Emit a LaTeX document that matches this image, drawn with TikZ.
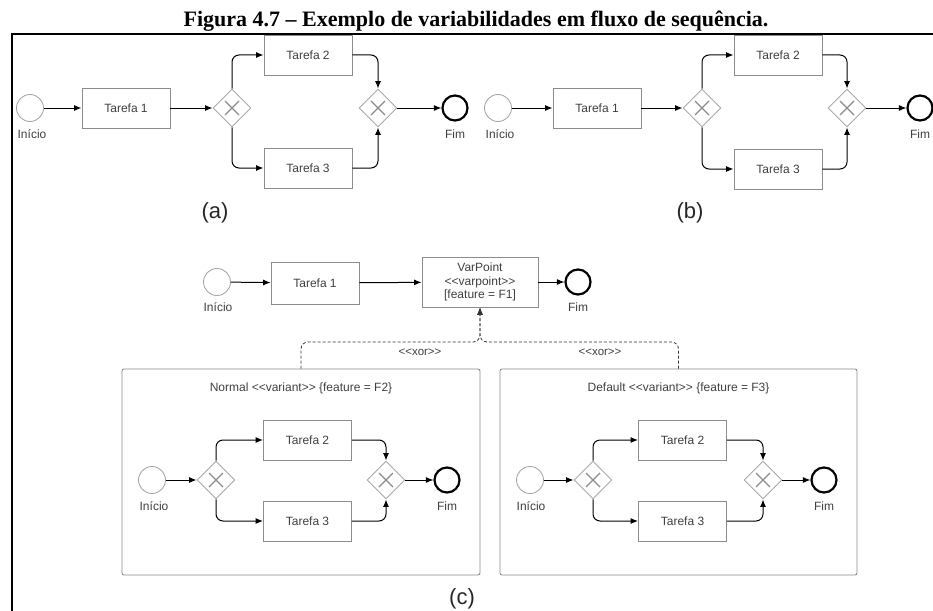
\documentclass[tikz,border=0pt]{standalone}
\usepackage{fontspec}
\setmainfont{Liberation Serif}
\setsansfont{Liberation Sans}
\usetikzlibrary{shapes.geometric,arrows.meta}

\definecolor{shapeline}{HTML}{8C8C8C}
\definecolor{evline}{HTML}{A8A8A8}
\definecolor{labeltext}{HTML}{404040}

% stereotype text written with plain angle brackets (no guillemet ligature)
\newcommand{\stereo}[1]{<\kern0pt<#1>\kern0pt>}

\tikzset{
  lbl/.style={font=\sffamily\fontsize{12}{14}\selectfont, text=labeltext, inner sep=1pt},
  task/.style={draw=shapeline, line width=0.9pt, fill=white, minimum width=88pt,
    minimum height=40pt, inner sep=0pt, lbl},
  startev/.style={circle, draw=evline, line width=0.9pt, minimum size=27pt, inner sep=0pt},
  endev/.style={circle, draw=black, line width=2.2pt, minimum size=25pt, inner sep=0pt},
  gw/.style={diamond, aspect=1, draw=evline, line width=0.9pt, fill=white,
    minimum size=38pt, inner sep=0pt,
    path picture={
      \draw[shapeline, line width=1.3pt]
        ([shift={(-7pt,-7pt)}]path picture bounding box.center) --
        ([shift={(7pt,7pt)}]path picture bounding box.center)
        ([shift={(-7pt,7pt)}]path picture bounding box.center) --
        ([shift={(7pt,-7pt)}]path picture bounding box.center);}},
  flow/.style={draw=black, line width=1pt, -{Latex[length=7.5pt,width=6pt]},
    rounded corners=7pt},
  assoc/.style={draw=black!80, line width=0.8pt, dash pattern=on 3pt off 2pt,
    rounded corners=7pt},
  varbox/.style={draw=shapeline, line width=0.9pt, rounded corners=2pt,
    minimum width=358pt, minimum height=206pt, inner sep=0pt},
  sublabel/.style={font=\sffamily\fontsize{22}{26}\selectfont, text=black!85},
}

% exclusive split into Tarefa 2 / Tarefa 3, exclusive join, end event
% #1 prefix, #2 x split, #3 x tasks, #4 x join, #5 x end, #6 y middle,
% #7 y upper task, #8 y lower task
\newcommand{\branchflow}[8]{%
  \node[gw] (#1g1) at (#2,#6) {};
  \node[task] (#1t2) at (#3,#7) {Tarefa 2};
  \node[task] (#1t3) at (#3,#8) {Tarefa 3};
  \node[gw] (#1g2) at (#4,#6) {};
  \node[endev] (#1end) at (#5,#6) {};
  \node[lbl] (#1endl) at (#5,#6+26) {Fim};
  \draw[flow] (#1g1.north) |- (#1t2.west);
  \draw[flow] (#1g1.south) |- (#1t3.west);
  \draw[flow] (#1t2.east) -| (#1g2.north);
  \draw[flow] (#1t3.east) -| (#1g2.south);
  \draw[flow] (#1g2.east) -- (#1end.west);
}

\begin{document}
\begin{tikzpicture}[x=1pt,y=-1pt]
\useasboundingbox (0,0) rectangle (933,610);

% caption
\node[font=\rmfamily\bfseries\fontsize{22}{26}\selectfont, anchor=base, inner sep=0pt]
  (caption) at (476,26.5) {Figura 4.7 – Exemplo de variabilidades em fluxo de sequência.};

% ---------- (a) ----------
\branchflow{a}{232}{308}{378}{455}{108}{55}{168}
\node[startev] (as) at (30,108) {};
\node[lbl] (asl) at (32,134) {Início};
\node[task] (at1) at (126,108) {Tarefa 1};
\draw[flow] (as) -- (at1);
\draw[flow] (at1) -- (ag1);
\node[sublabel] (alab) at (215,213) {(a)};

% ---------- (b) ----------
\branchflow{b}{702}{778}{847}{920}{108}{55}{169}
\node[startev] (bs) at (498,108) {};
\node[lbl] (bsl) at (500,134) {Início};
\node[task] (bt1) at (597,108) {Tarefa 1};
\draw[flow] (bs) -- (bt1);
\draw[flow] (bt1) -- (bg1);
\node[sublabel] (blab) at (690,213) {(b)};

% ---------- (c) main flow ----------
\node[startev] (cs) at (217,282) {};
\node[lbl] (csl) at (218,307) {Início};
\node[task, minimum height=42pt] (ct1) at (315,283) {Tarefa 1};
\node[task, minimum width=116pt, minimum height=50pt, align=center,
  font=\sffamily\fontsize{12}{13.5}\selectfont] (cvp) at (480,282)
  {VarPoint\\\stereo{varpoint}\\{[}feature = F1{]}};
\node[endev] (cend) at (578,282) {};
\node[lbl] (cendl) at (578,307) {Fim};
\draw[flow] (cs) -- (ct1);
\draw[flow] (ct1) -- (cvp);
\draw[flow] (cvp) -- (cend);

% variant containers
\node[varbox] (vnormal) at (301,472) {};
\node[varbox, minimum width=357pt] (vdefault) at (678.5,472) {};
\node[lbl] (vnormalt) at (301,388) {Normal \stereo{variant} \{feature = F2\}};
\node[lbl] (vdefaultt) at (678.5,388) {Default \stereo{variant} \{feature = F3\}};

% links from the variants to the variation point
\coordinate (cj) at (480,342);
\draw[assoc, -{Latex[length=7.5pt,width=6pt]}] (vnormal.north) |- (cj) -- (cvp.south);
\draw[assoc, -{Latex[length=7.5pt,width=6pt]}] (vdefault.north) |- (cj) -- (cvp.south);
\node[lbl, font=\sffamily\fontsize{11.5}{13}\selectfont] (xorl) at (420,352) {\stereo{xor}};
\node[lbl, font=\sffamily\fontsize{11.5}{13}\selectfont] (xorr) at (600,352) {\stereo{xor}};

% Normal variant
\branchflow{n}{216}{307.5}{386}{447}{480}{440}{521}
\node[startev] (ns) at (152,480) {};
\node[lbl] (nsl) at (154,506) {Início};
\draw[flow] (ns) -- (ng1);

% Default variant
\branchflow{d}{593}{682.5}{763}{824}{480}{440}{521}
\node[startev] (ds) at (530,480) {};
\node[lbl] (dsl) at (531,506) {Início};
\draw[flow] (ds) -- (dg1);

\node[sublabel] (clab) at (462,599) {(c)};

% frame of the figure
\draw[line width=2pt] (12,612) -- (12,34) -- (936,34);
\end{tikzpicture}
\end{document}
